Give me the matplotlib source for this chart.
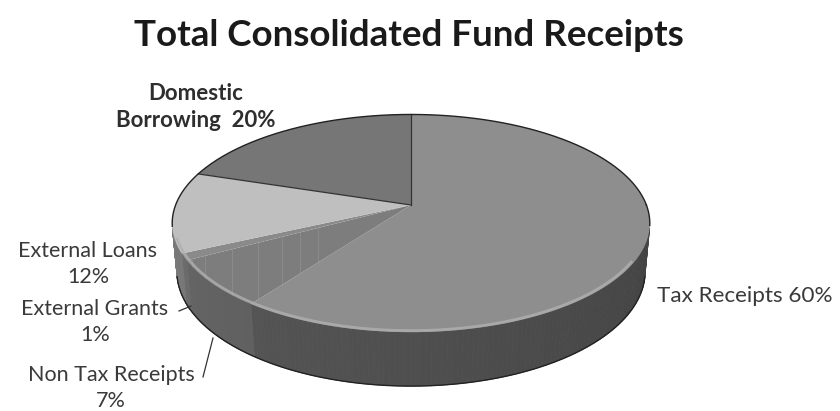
import numpy as np
import matplotlib
matplotlib.use("Agg")
import matplotlib.pyplot as plt
from matplotlib.patches import Polygon

# ---------------------------------------------------------------------------
# Data
# ---------------------------------------------------------------------------
labels = ["Tax Receipts", "Non Tax Receipts", "External Grants",
          "External Loans", "Domestic Borrowing"]
shares = [60, 7, 1, 12, 20]
top_colors = ["#8e8e8e", "#7d7d7d", "#8a8a8a", "#bfbfbf", "#767676"]
side_colors = ["#5a5a5a", "#676767", "#6e6e6e", "#7a7a7a", "#5e5e5e"]

TITLE = "Total Consolidated Fund Receipts"

# ---------------------------------------------------------------------------
# Simple perspective projection of a flat disk (pixel coordinates)
# ---------------------------------------------------------------------------
ALPHA = np.radians(26.7)      # camera elevation
DIST = 5.31                   # camera distance (disk radius = 1)
FOCAL = 1250.0
THICK = 0.23
CX, CY = 411.0, 205.0         # projected disk centre
S, C = np.sin(ALPHA), np.cos(ALPHA)


def project(phi_deg, y=0.0, r=1.0):
    phi = np.radians(np.asarray(phi_deg, dtype=float))
    x = r * np.cos(phi)
    z = r * np.sin(phi)
    yc = y * C + z * S
    zc = -y * S + z * C + DIST
    return CX + FOCAL * x / zc, CY - FOCAL * yc / zc


# slice angles, clockwise from 12 o'clock
bounds = [90.0]
for v in shares:
    bounds.append(bounds[-1] - 360.0 * v / sum(shares))
ranges = [(bounds[i + 1], bounds[i]) for i in range(len(shares))]

fig = plt.figure(figsize=(8.4, 4.11), dpi=100)
ax = fig.add_axes([0, 0, 1, 1])
ax.set_xlim(0, 840)
ax.set_ylim(411, 0)
ax.axis("off")

# visible outer wall: sin(phi) < -1/(d*cos)
lim = np.degrees(np.arcsin(1.0 / (DIST * C)))
vis_lo, vis_hi = 180.0 + lim, 360.0 - lim

# outer walls, drawn as small strips with shading
for i, (a0, a1) in enumerate(ranges):
    phis = np.linspace(a0, a1, 200)
    base = np.array(matplotlib.colors.to_rgb(side_colors[i]))
    for p0, p1 in zip(phis[:-1], phis[1:]):
        pm = ((p0 + p1) / 2) % 360.0
        if not (vis_lo <= pm <= vis_hi):
            continue
        tx0, ty0 = project([p0, p1])
        bx0, by0 = project([p1, p0], y=-THICK)
        shade = 1.0 - 0.25 * (pm - vis_lo) / (vis_hi - vis_lo)
        col = np.clip(base * shade, 0, 1)
        ax.add_patch(Polygon(np.column_stack([np.r_[tx0, bx0], np.r_[ty0, by0]]),
                             closed=True, facecolor=col, edgecolor=col, lw=0.6))

# bottom outline of the wall
ph = np.linspace(vis_lo, vis_hi, 200)
bx, by = project(ph, y=-THICK)
ax.plot(bx, by, color="#222222", lw=1.0)

# top faces
wedges = []
for i, (a0, a1) in enumerate(ranges):
    phis = np.linspace(a0, a1, 200)
    rx, ry = project(phis)
    poly = Polygon(np.column_stack([np.r_[CX, rx], np.r_[CY, ry]]), closed=True,
                   facecolor=top_colors[i], edgecolor="none")
    ax.add_patch(poly)
    wedges.append(poly)

# faint vertical streaks on the non tax slice (scan texture)
for xv in [192, 205, 232, 258, 282, 300, 318]:
    ln, = ax.plot([xv, xv], [200, 400], color="#a0a0a0", lw=0.7, alpha=0.4)
    ln.set_clip_path(wedges[1])

# slice separators on top face (dark for the back ones)
for b in [bounds[0], bounds[4]]:
    rx, ry = project([b])
    ax.plot([CX, rx[0]], [CY, ry[0]], color="#333333", lw=0.9)

# rim outline (back half) and front highlight
ph = np.linspace(0, 360, 400)
rx, ry = project(ph)
back = np.sin(np.radians(ph)) > -0.2
ax.plot(np.where(back, rx, np.nan), np.where(back, ry, np.nan), color="#222222", lw=1.0)
ph = np.linspace(198, 330, 200)
hx, hy = project(ph, r=0.99)
ax.plot(hx, hy, color="#b0b0b0", lw=2.0, alpha=0.8)

# ---------------------------------------------------------------------------
# Text
# ---------------------------------------------------------------------------
FONT = ["Lato", "DejaVu Sans"]
ax.text(409, 35, TITLE, ha="center", va="center", fontsize=26.5,
        fontweight="bold", color="#1a1a1a", family=FONT)

ax.text(196, 107, "Domestic\nBorrowing  20%", ha="center", va="center",
        fontsize=16, fontweight="bold", color="#2e2e2e", family=FONT,
        linespacing=1.38)
ax.text(88, 264, "External Loans\n12%", ha="center", va="center",
        fontsize=15.5, color="#3a3a3a", family=FONT, linespacing=1.4)
ax.text(95, 322, "External Grants\n1%", ha="center", va="center",
        fontsize=15.5, color="#3a3a3a", family=FONT, linespacing=1.4)
ax.text(111, 388, "Non Tax Receipts\n7%", ha="center", va="center",
        fontsize=15.5, color="#3a3a3a", family=FONT, linespacing=1.4)
ax.text(657, 296, "Tax Receipts 60%", ha="left", va="center",
        fontsize=16.2, color="#3a3a3a", family=FONT)

# leader lines
ax.plot([179, 191], [311, 306], color="#333333", lw=0.9)
ax.plot([203, 213], [377, 338], color="#333333", lw=0.9)

fig.savefig("out.png", dpi=100)
